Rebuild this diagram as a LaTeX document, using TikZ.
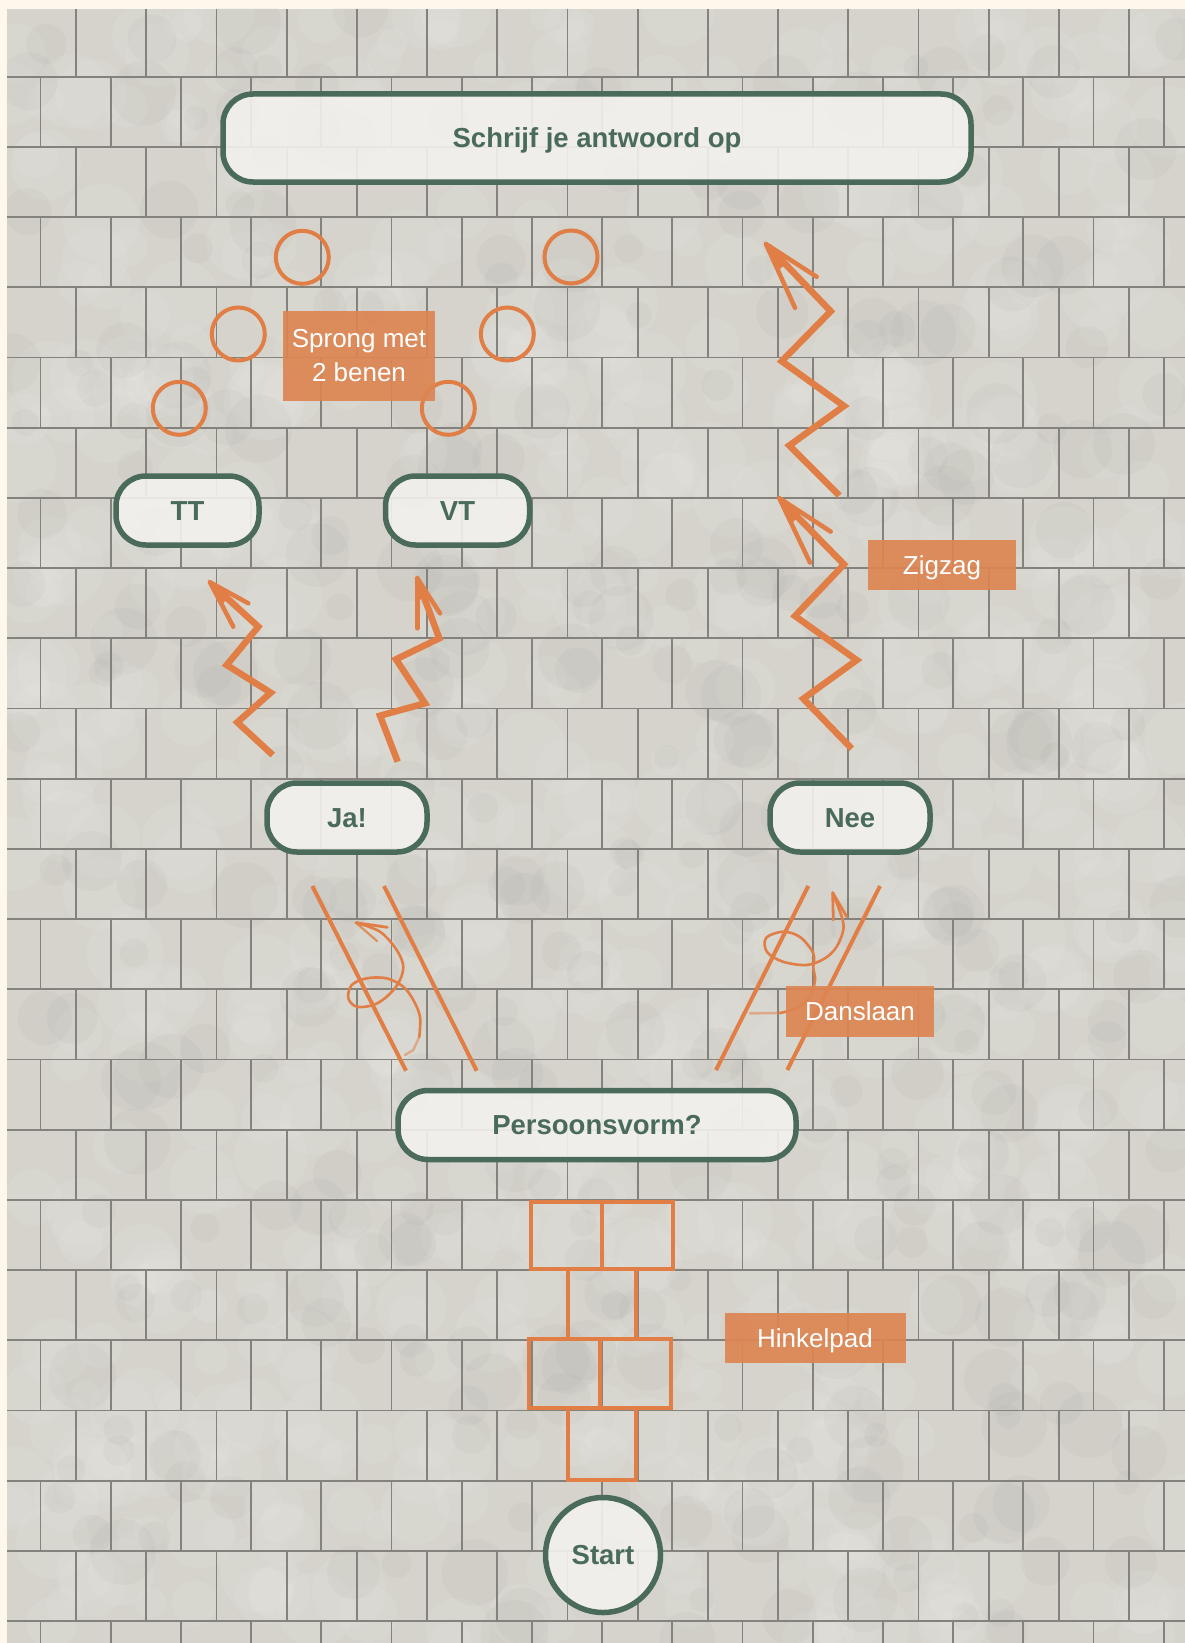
\documentclass[tikz,border=0pt]{standalone}
\usepackage{fontspec}
\setmainfont{Liberation Sans}
\definecolor{cream}{HTML}{FDF7EC}
\definecolor{tile}{HTML}{D5D3CC}
\definecolor{grout}{HTML}{84827D}
\definecolor{dgreen}{HTML}{4A6B5A}
\definecolor{orng}{HTML}{E07E45}
\definecolor{lbl}{HTML}{DD8552}
\definecolor{nodefill}{HTML}{F2F1EE}
\begin{document}
\begin{tikzpicture}[x=1pt,y=-1pt,
  gnode/.style={draw=dgreen, line width=5.5pt, fill=nodefill, fill opacity=0.9, draw opacity=1, text opacity=1,
    rounded corners=30pt, inner sep=0pt, text=dgreen, text height=22pt, text depth=2.5pt,
    font=\fontsize{27.5}{32}\selectfont\bfseries},
  olabel/.style={fill=lbl, fill opacity=0.92, text opacity=1, text=white, inner sep=0pt, align=center,
    font=\fontsize{26}{34}\selectfont},
  oneline/.style={text height=19pt, text depth=0.5pt},
  ostroke/.style={draw=orng, line width=4pt},
  zz/.style={draw=orng, line width=6.5pt, line join=miter, line cap=butt},
  barb/.style={draw=orng, line width=4.5pt, line cap=round},
  curl/.style={draw=orng, line width=2.6pt, line cap=round, line join=round},
  hop/.style={draw=orng, line width=4pt},
  ring/.style={draw=orng, line width=4pt, circle, minimum size=53pt, inner sep=0pt}]
\useasboundingbox (0,0) rectangle (1185,1643);
% ---------- background and tiles ----------
\fill[cream] (0,0) rectangle (1185,1643);
\fill[tile] (7,9) rectangle (1185,1643);
\begin{scope}
\clip (7,9) rectangle (1185,1643);
\pgfmathsetseed{4711}
\foreach \i in {1,...,700}{
  \pgfmathsetmacro\bx{7+rnd*1178}
  \pgfmathsetmacro\by{9+rnd*1634}
  \pgfmathsetmacro\br{14+rnd*26}
  \fill[white, opacity=0.07] (\bx,\by) circle (\br);
}
\foreach \i in {1,...,350}{
  \pgfmathsetmacro\bx{7+rnd*1178}
  \pgfmathsetmacro\by{9+rnd*1634}
  \pgfmathsetmacro\br{12+rnd*22}
  \fill[black!40!tile, opacity=0.05] (\bx,\by) circle (\br);
}
\end{scope}
\foreach \k in {0,...,22}{
  \draw[grout, line width=1.8pt] (7,{76.7+70.2*\k}) -- (1185,{76.7+70.2*\k});
}
\foreach \r in {0,...,23}{
  \pgfmathsetmacro\ytop{\r==0 ? 9 : 76.7+70.2*(\r-1)}
  \pgfmathsetmacro\ybot{min(76.7+70.2*\r,1643)}
  \pgfmathsetmacro\xoff{mod(\r,2)==0 ? 76 : 40.5}
  \foreach \j in {0,...,16}{
    \pgfmathsetmacro\xx{\xoff+70.2*\j}
    \ifdim\xx pt<1185pt \draw[grout, line width=1.8pt] (\xx,\ytop) -- (\xx,\ybot);\fi
  }
}
% ---------- main nodes ----------
\node[gnode, minimum width=748pt, minimum height=88pt] (answer) at (597,138) {Schrijf je antwoord op};
\node[gnode, minimum width=143pt, minimum height=69pt] (tt) at (187.5,510.5) {TT};
\node[gnode, minimum width=144pt, minimum height=69pt] (vt) at (457.5,510.5) {VT};
\node[gnode, minimum width=160pt, minimum height=69pt] (ja) at (347,817.5) {Ja!};
\node[gnode, minimum width=160pt, minimum height=69pt] (nee) at (850,817.5) {Nee};
\node[gnode, minimum width=398pt, minimum height=69pt] (pv) at (597,1125) {Persoonsvorm?};
\node[gnode, circle, minimum size=115pt] (start) at (603,1555) {Start};
% ---------- hopscotch path ----------
\draw[hop] (531.3,1202) rectangle (673,1269.3);
\draw[hop] (602.3,1202) -- (602.3,1269.3);
\draw[hop] (568,1269.3) rectangle (636.3,1339.3);
\draw[hop] (529.3,1339.3) rectangle (670.7,1408);
\draw[hop] (600,1339.3) -- (600,1408);
\draw[hop] (568,1408) rectangle (636.3,1479.7);
% ---------- dance lanes ----------
\draw[ostroke] (312.3,886) -- (406,1070.7);
\draw[ostroke] (384,886) -- (476.7,1070.7);
\draw[ostroke] (808.3,886) -- (716,1070);
\draw[ostroke] (880,886) -- (787.3,1070);
% left curl
\draw[curl, densely dotted, draw opacity=0.5] (405,1055) -- (413.3,1050) -- (419.3,1036.7);
\draw[curl] plot[smooth, tension=0.55] coordinates {(419.3,1036.7) (420,1016.7) (413.3,1000) (403.3,986.7) (386.7,978.3) (366.7,978.3) (351.7,985) (348.3,998.3) (356.7,1006.7) (373.3,1005) (386.7,996.7) (398.3,983.3) (403.3,966.7) (396.7,950) (380,931.7) (356,922.7)};
\draw[barb, line width=2.8pt] (356,922.7) -- (387.3,927.3);
\draw[barb, line width=2.2pt, draw opacity=0.8] (356,922.7) -- (377,941);
% right curl
\draw[curl, densely dotted, draw opacity=0.5] (750,1013.3) -- (780,1013);
\draw[curl] plot[smooth, tension=0.55] coordinates {(780,1013) (797,1008) (810,996.7) (815,980) (813.3,968) (813.3,953.3) (800,937) (783,931.7) (766,938) (767,952) (783,961.7) (806.7,965) (825,958.3) (836.7,946.7) (843.3,930) (841.7,916.7) (832.7,892.7)};
\draw[barb, line width=2.8pt] (832.7,892.7) -- (833.3,920);
\draw[barb, line width=2.8pt] (832.7,892.7) -- (846.7,916.7);
% ---------- zigzags ----------
\draw[zz] (272.7,755) -- (237.3,722.3) -- (270.7,692.7) -- (226.7,665) -- (258.3,626.7) -- (212,584.3);
\draw[barb] (210,582.3) -- (233.3,626.7);
\draw[barb] (210,582.3) -- (248.3,603.3);
\fill[orng] (208,579) -- (226,600) -- (222,605) -- cycle;
\draw[zz] (397.7,761.7) -- (380,715.7) -- (425,703.3) -- (396,659.3) -- (439.3,638.3) -- (418,581);
\draw[barb] (417.3,578.3) -- (417.3,628.3);
\draw[barb] (417.3,578.3) -- (440,613.3);
\fill[orng] (417.3,575) -- (425,598) -- (418,600) -- cycle;
\draw[zz] (851.7,748.6) -- (803.3,698.7) -- (856.7,660.1) -- (795,616) -- (844,564.4) -- (781,500);
\draw[barb] (779.3,498.2) -- (810,562.6);
\draw[barb] (779.3,498.2) -- (830.7,531.6);
\fill[orng] (777,495) -- (800,515) -- (793,522) -- cycle;
\draw[zz] (839.3,495.5) -- (789.3,445.5) -- (844,406) -- (781.7,361.2) -- (830.7,311.3) -- (768,246);
\draw[barb] (766,244.1) -- (795,307.8);
\draw[barb] (766,244.1) -- (816.7,276.8);
\fill[orng] (764,241) -- (787,262) -- (780,269) -- cycle;
% ---------- two-leg jump circles ----------
\node[ring] (j1) at (302.3,257.3) {};
\node[ring] (j2) at (238.3,334) {};
\node[ring] (j3) at (179.3,408.3) {};
\node[ring] (j4) at (448.3,408.3) {};
\node[ring] (j5) at (507.3,334) {};
\node[ring] (j6) at (571,257) {};
% ---------- orange labels ----------
\node[olabel, minimum width=152pt, minimum height=90pt] (lsprong) at (359,356) {Sprong met\\2 benen};
\node[olabel, oneline, minimum width=148pt, minimum height=50pt] (lzig) at (942,565) {Zigzag};
\node[olabel, oneline, minimum width=148pt, minimum height=51pt] (ldans) at (860,1011) {Danslaan};
\node[olabel, oneline, minimum width=181pt, minimum height=50pt] (lhink) at (815,1338) {Hinkelpad};
\end{tikzpicture}
\end{document}
